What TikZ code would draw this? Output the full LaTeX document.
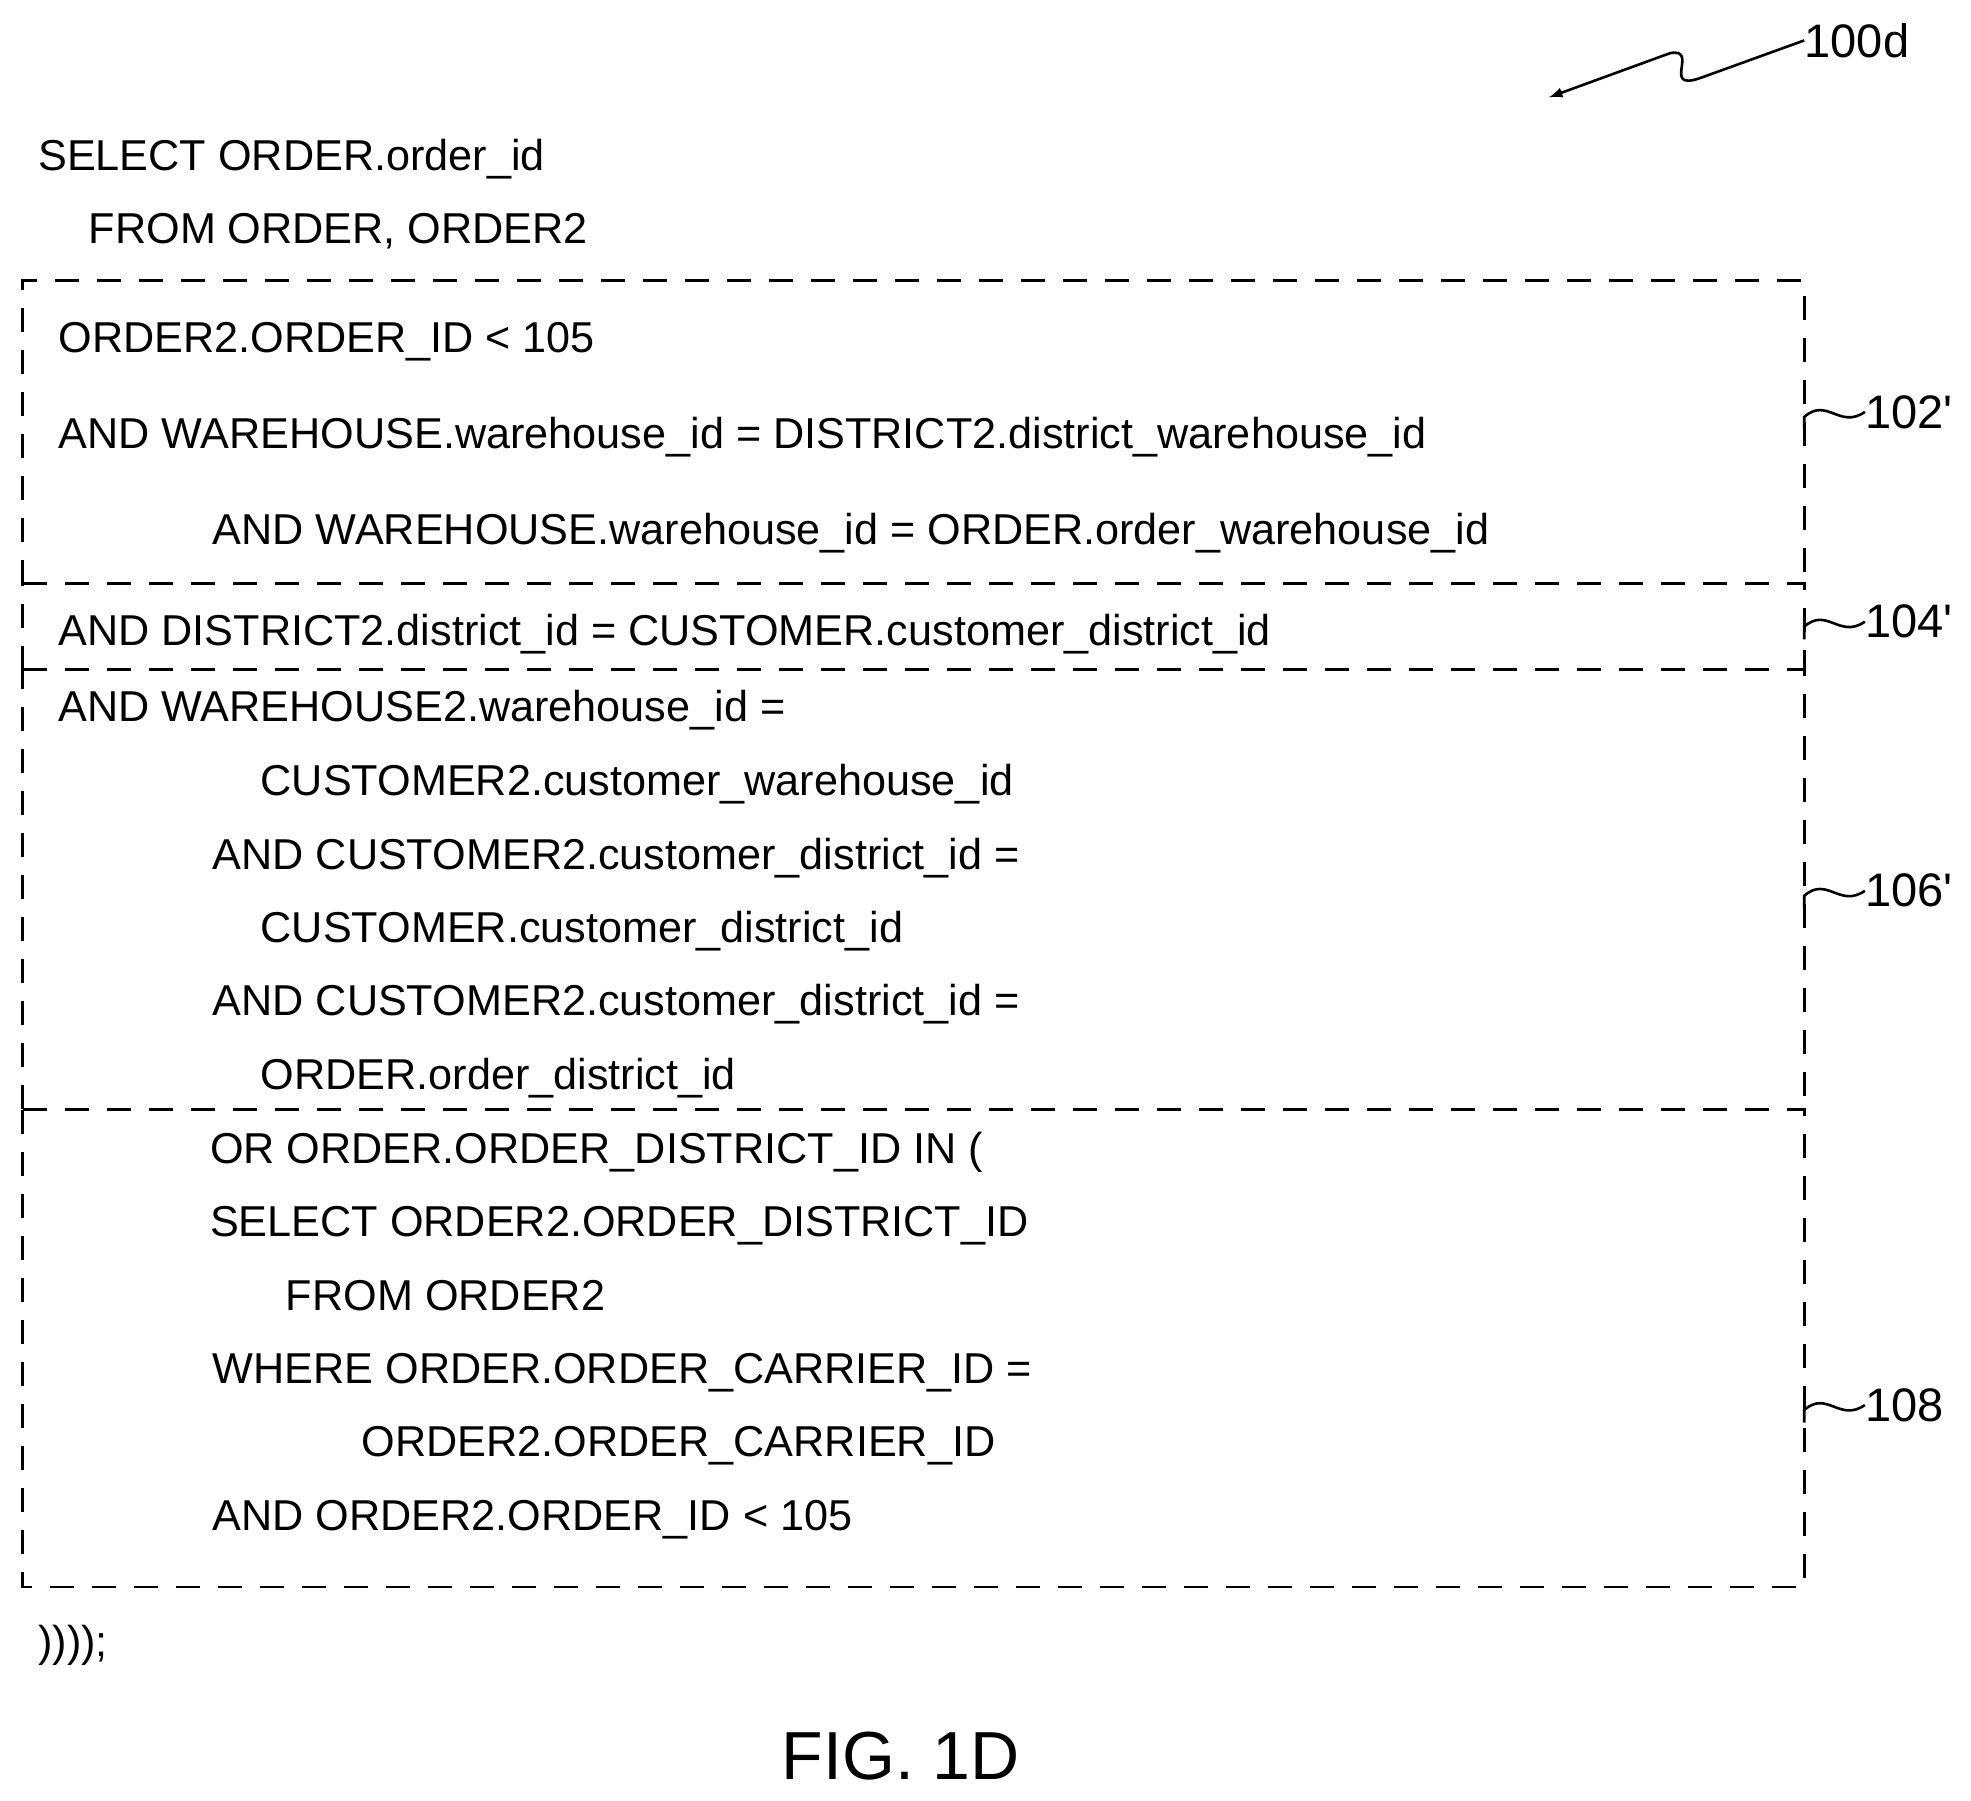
\documentclass[tikz,border=0pt]{standalone}
\usepackage{fontspec}
\setmainfont{Liberation Sans}
\usetikzlibrary{arrows, positioning}

\begin{document}
\begin{tikzpicture}[x=0.6318pt,y=-0.6318pt,
    code/.style={anchor=base west,inner sep=0pt,font=\fontsize{21.6}{22}\selectfont},
    refnum/.style={anchor=west,inner sep=0pt,font=\fontsize{23.5}{24}\selectfont},
    box/.style={line width=1.3pt,dash pattern=on 12pt off 9pt}]
    \useasboundingbox (0,0) rectangle (1560,1425);

    % Kopf der Abfrage
    \foreach \nm/\x/\y/\txt in {sel/30/124/{SELECT ORDER.order\_id}, frm/70/182/{FROM ORDER, ORDER2},
        a1/46/268/{ORDER2.ORDER\_ID < 105},
        a2/46/344/{AND WAREHOUSE.warehouse\_id = DISTRICT2.district\_warehouse\_id},
        a3/168/420/{AND WAREHOUSE.warehouse\_id = ORDER.order\_warehouse\_id},
        b1/46/500/{AND DISTRICT2.district\_id = CUSTOMER.customer\_district\_id},
        c1/46/560/{AND WAREHOUSE2.warehouse\_id =},
        c2/206/619/{CUSTOMER2.customer\_warehouse\_id},
        c3/168/677/{AND CUSTOMER2.customer\_district\_id =},
        c4/206/735/{CUSTOMER.customer\_district\_id},
        c5/168/793/{AND CUSTOMER2.customer\_district\_id =},
        c6/206/851/{ORDER.order\_district\_id},
        d1/166/910/{OR ORDER.ORDER\_DISTRICT\_ID IN (},
        d2/166/968/{SELECT ORDER2.ORDER\_DISTRICT\_ID},
        d3/226/1026/{FROM ORDER2},
        d4/168/1084/{WHERE ORDER.ORDER\_CARRIER\_ID =},
        d5/286/1142/{ORDER2.ORDER\_CARRIER\_ID},
        d6/168/1200/{AND ORDER2.ORDER\_ID < 105},
        end/30/1300/{))));}}
        \node[code] (\nm) at (\x,\y+11) {\txt};

    % Gestrichelte Bereiche
    \draw[box] (18,462) -- (18,222) -- (1428,222) -- (1428,462);
    \draw[box] (18,462) -- (1428,462) -- (1428,530);
    \draw[box] (18,530) -- (18,462);
    \draw[box] (18,530) -- (1428,530) -- (1428,878);
    \draw[box] (18,878) -- (18,530);
    \draw[box] (18,878) -- (1428,878) -- (1428,1256) -- (18,1256) -- (18,878);

    % Bezugszeichen
    \foreach \nm/\y/\lab in {r102/326/102\textquotesingle, r104/492/104\textquotesingle, r106/705/106\textquotesingle, r108/1112/108}{
        \coordinate (\nm s) at (1428,\y+14);
        \node[refnum] (\nm) at (1476,\y) {\lab};
        \draw[line width=1.3pt] (\nm s) -- (1428,\y+4) .. controls (1446,\y-12) and (1456,\y+14) .. (\nm.west);
    }

    \node[refnum] (fig) at (1428,32) {100d};
    \coordinate (tip) at (1226,77);
    \draw[line width=1.3pt,-latex] (fig.west) -- (1345,62) .. controls (1315,72) and (1345,38) .. (1322,42) -- (tip);

    \node[font=\fontsize{34}{34}\selectfont] (cap) at (713,1390) {FIG. 1D};
\end{tikzpicture}
\end{document}
